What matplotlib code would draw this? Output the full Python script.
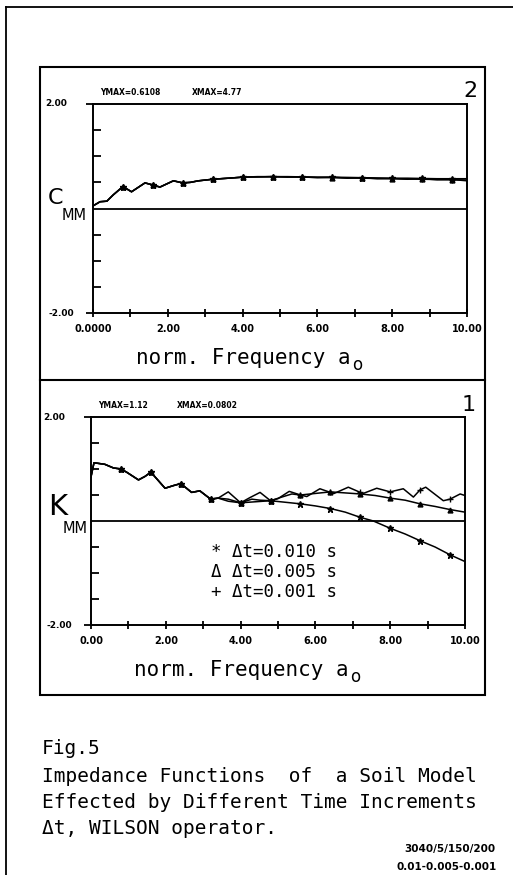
import numpy as np
import matplotlib
matplotlib.use("Agg")
from matplotlib import pyplot as plt
from matplotlib.patches import Rectangle
from matplotlib.lines import Line2D
import matplotlib.transforms as mtransforms

# marcas cada 0.8 sobre las curvas
mark_x = [0.8, 1.6, 2.4, 3.2, 4.0, 4.8, 5.6, 6.4, 7.2, 8.0, 8.8, 9.6]

# ---- panel 2 : C_MM ----
c_x = [0.0, 0.19, 0.37, 0.54, 0.8, 1.03, 1.39, 1.6, 1.79, 2.15, 2.4, 2.6, 2.82, 3.2,
       3.62, 4.0, 4.4, 4.8, 5.2, 5.6, 6.0, 6.4, 6.8, 7.2, 7.6, 8.0, 8.4, 8.8, 9.2, 9.6, 10.0]
c_010 = [0.05, 0.13, 0.14, 0.26, 0.42, 0.32, 0.49, 0.45, 0.41, 0.53, 0.49, 0.50, 0.53, 0.56,
         0.58, 0.60, 0.605, 0.61, 0.61, 0.605, 0.60, 0.60, 0.595, 0.59, 0.585, 0.58, 0.58, 0.575, 0.57, 0.57, 0.57]
c_005 = [0.05, 0.13, 0.14, 0.26, 0.42, 0.32, 0.49, 0.45, 0.41, 0.53, 0.49, 0.50, 0.53, 0.56,
         0.58, 0.60, 0.605, 0.61, 0.605, 0.60, 0.595, 0.59, 0.585, 0.58, 0.575, 0.57, 0.565, 0.56, 0.555, 0.55, 0.545]
c_001 = [0.05, 0.13, 0.14, 0.26, 0.42, 0.32, 0.49, 0.45, 0.41, 0.53, 0.49, 0.50, 0.53, 0.56,
         0.58, 0.60, 0.61, 0.61, 0.60, 0.605, 0.59, 0.60, 0.58, 0.59, 0.57, 0.575, 0.56, 0.57, 0.55, 0.555, 0.53]

# ---- panel 1 : K_MM ----
k1_x = [0.0, 0.08, 0.37, 0.6, 0.8, 0.95, 1.27, 1.45, 1.6, 1.98, 2.2, 2.4, 2.69, 2.91, 3.2, 3.4,
        3.67, 4.0, 4.4, 4.8, 5.2, 5.6, 6.0, 6.4, 6.8, 7.2, 7.55, 8.0, 8.4, 8.8, 9.2, 9.6, 10.0]
k_010 = [0.85, 1.12, 1.09, 1.02, 1.0, 0.94, 0.79, 0.86, 0.94, 0.63, 0.68, 0.72, 0.55, 0.58, 0.42, 0.44,
         0.38, 0.35, 0.37, 0.39, 0.36, 0.33, 0.29, 0.24, 0.17, 0.07, 0.0, -0.14, -0.25, -0.38, -0.50, -0.65, -0.78]

k2_x = [0.0, 0.08, 0.37, 0.6, 0.8, 0.95, 1.27, 1.45, 1.6, 1.98, 2.2, 2.4, 2.69, 2.91, 3.2, 3.4,
        3.67, 4.0, 4.3, 4.52, 4.8, 5.1, 5.37, 5.6, 6.0, 6.4, 6.8, 7.2, 7.6, 8.0, 8.4, 8.8, 9.2, 9.6, 10.0]
k_005 = [0.85, 1.12, 1.09, 1.02, 1.0, 0.94, 0.79, 0.86, 0.94, 0.63, 0.68, 0.72, 0.55, 0.58, 0.42, 0.44,
         0.42, 0.35, 0.42, 0.40, 0.39, 0.46, 0.52, 0.50, 0.53, 0.56, 0.54, 0.52, 0.49, 0.44, 0.40, 0.33, 0.28, 0.22, 0.17]

k3_x = [0.0, 0.08, 0.37, 0.6, 0.8, 0.95, 1.27, 1.45, 1.6, 1.98, 2.2, 2.4, 2.69, 2.91, 3.2, 3.4,
        3.67, 4.0, 4.25, 4.52, 4.8, 5.0, 5.3, 5.6, 5.77, 6.12, 6.4, 6.5, 6.88, 7.2, 7.28, 7.64,
        8.0, 8.35, 8.62, 8.8, 8.95, 9.42, 9.6, 9.87, 10.0]
k_001 = [0.85, 1.12, 1.09, 1.02, 1.0, 0.94, 0.79, 0.86, 0.94, 0.63, 0.68, 0.72, 0.55, 0.58, 0.42, 0.44,
         0.56, 0.35, 0.45, 0.55, 0.39, 0.43, 0.57, 0.50, 0.47, 0.62, 0.55, 0.53, 0.65, 0.55, 0.53, 0.63,
         0.56, 0.62, 0.46, 0.60, 0.65, 0.39, 0.42, 0.52, 0.49]

top_xticklabels = ['0.0000', '', '2.00', '', '4.00', '', '6.00', '', '8.00', '', '10.00']
bot_xticklabels = ['0.00', '', '2.00', '', '4.00', '', '6.00', '', '8.00', '', '10.00']
legend_lines = ['* \u0394t=0.010 s', '\u0394 \u0394t=0.005 s', '+ \u0394t=0.001 s']
caption = ['Fig.5',
           'Impedance Functions  of  a Soil Model',
           'Effected by Different Time Increments',
           '\u0394t, WILSON operator.']

W, H = 513, 875
fig = plt.figure(figsize=(W / 100, H / 100), dpi=100)
mono = 'DejaVu Sans Mono'


def px(x, y):
    # pixel -> fraccion de figura
    return x / W, 1 - y / H


def axes_px(l, t, r, b):
    return fig.add_axes([l / W, 1 - b / H, (r - l) / W, (b - t) / H])


def marks(x):
    return [any(abs(xv - m) < 1e-6 for m in mark_x) for xv in x]


def setup(ax, xlabels, ymax, xmax, xmax_pos, num, sym, sym_size, sym_x, mm_x):
    ax.set_xlim(0, 10)
    ax.set_ylim(-2, 2)
    ax.set_xticks(range(11))
    ax.set_xticklabels(xlabels, fontsize=7, fontweight='bold')
    ax.set_yticks([-2, 2])
    ax.set_yticklabels([])
    ax.set_yticks([-1.5, -1, -0.5, 0.5, 1, 1.5], minor=True)
    ax.tick_params(axis='y', which='major', direction='out', length=5, width=1.3)
    ax.tick_params(axis='y', which='minor', direction='in', length=6, width=1.3)
    ax.tick_params(axis='x', which='major', direction='inout', length=6, width=1.3, pad=5)
    for s in ax.spines.values():
        s.set_linewidth(1.4)
    ax.axhline(0, color='k', lw=1.3)
    tr = mtransforms.blended_transform_factory(ax.transAxes, ax.transData)
    ax.text(-0.128, 2, '2.00', transform=tr, ha='left', va='center', fontsize=6.5, fontweight='bold')
    ax.text(-0.12, -2, '-2.00', transform=tr, ha='left', va='center', fontsize=6.5, fontweight='bold')
    ax.text(0.019, 1.053, ymax, transform=ax.transAxes, ha='left', va='center', fontsize=5.5, fontweight='bold')
    ax.text(xmax_pos, 1.053, xmax, transform=ax.transAxes, ha='left', va='center', fontsize=5.5, fontweight='bold')
    ax.text(1.01, 1.06, num, transform=ax.transAxes, ha='center', va='center', fontsize=16)
    ax.text(sym_x, 0.0, sym, transform=tr, ha='left', va='bottom', fontsize=sym_size)
    ax.text(mm_x, 0.0, 'MM', transform=tr, ha='left', va='top', fontsize=10.5)
    ax.text(0.402, -0.245, 'norm. Frequency a', transform=ax.transAxes, ha='center', va='baseline',
            fontsize=15, family=mono)
    ax.text(0.694, -0.275, 'o', transform=ax.transAxes, ha='left', va='baseline', fontsize=12)


# axes
ax2 = axes_px(93, 104, 467, 313)
ax1 = axes_px(91, 417, 465, 625)

setup(ax2, top_xticklabels, 'YMAX=0.6108', 'XMAX=4.77', 0.264, '2', 'C', 16, -0.12, -0.083)
setup(ax1, bot_xticklabels, 'YMAX=1.12', 'XMAX=0.0802', 0.229, '1', 'K', 21, -0.115, -0.075)

ax2.plot(c_x, c_010, color='k', lw=1.1, marker='*', ms=5, markevery=marks(c_x))
ax2.plot(c_x, c_005, color='k', lw=1.1, marker='^', ms=3.5, markevery=marks(c_x))
ax2.plot(c_x, c_001, color='k', lw=1.1, marker='+', ms=5, markevery=marks(c_x))

ax1.plot(k1_x, k_010, color='k', lw=1.1, marker='*', ms=5, markevery=marks(k1_x))
ax1.plot(k2_x, k_005, color='k', lw=1.1, marker='^', ms=3.5, markevery=marks(k2_x))
ax1.plot(k3_x, k_001, color='k', lw=1.1, marker='+', ms=5, markevery=marks(k3_x))

for i, t in enumerate(legend_lines):
    ax1.text(0.321, 0.351 - i * 0.096, t, transform=ax1.transAxes, ha='left', va='center',
             fontsize=12.5, family=mono)

# cajas y marco exterior
x0, y0 = px(40, 695)
x1, y1 = px(485, 67)
fig.patches.append(Rectangle((x0, y0), x1 - x0, y1 - y0, transform=fig.transFigure,
                             fill=False, lw=1.5, ec='k'))
fig.lines.append(Line2D([x0, x1], [px(0, 380)[1]] * 2, transform=fig.transFigure, color='k', lw=1.5))
fig.lines.append(Line2D([6 / W, 1.0], [px(0, 7)[1]] * 2, transform=fig.transFigure, color='k', lw=1.3))
fig.lines.append(Line2D([6 / W, 6 / W], [0, px(0, 7)[1]], transform=fig.transFigure, color='k', lw=1.3))

# texto al pie
cap_y = [748, 776, 802, 829]
for t, y in zip(caption, cap_y):
    fig.text(42 / W, 1 - y / H, t, ha='left', va='center', fontsize=14, family=mono)
fig.text(495 / W, 1 - 849 / H, '3040/5/150/200', ha='right', va='center', fontsize=7.5, fontweight='bold')
fig.text(497 / W, 1 - 867 / H, '0.01-0.005-0.001', ha='right', va='center', fontsize=7.5, fontweight='bold')

fig.savefig('out.png', dpi=100)
